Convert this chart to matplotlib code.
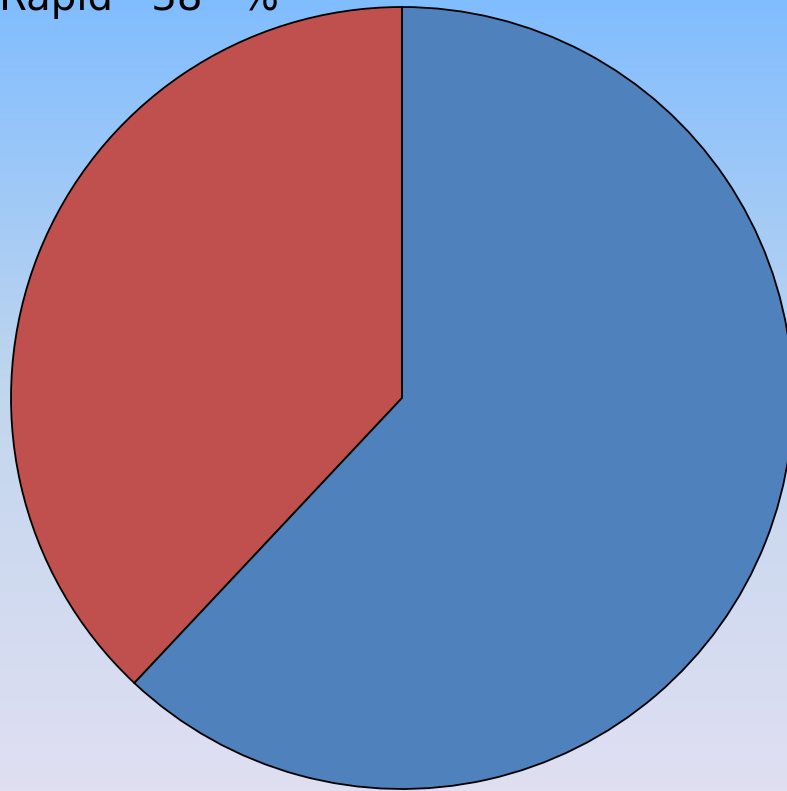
import numpy as np
import matplotlib
matplotlib.use("Agg")
import matplotlib.pyplot as plt
from matplotlib.colors import LinearSegmentedColormap

categories = ["Rapid", "Other"]
shares = [38, 62]
colors = ["#C0504D", "#4F81BD"]

W, H = 787, 791
fig = plt.figure(figsize=(W / 100, H / 100), dpi=100)
ax = fig.add_axes([0, 0, 1, 1])

# vertical background gradient
bg = LinearSegmentedColormap.from_list("bg", ["#80BDFF", "#C2D6EE", "#E0DFF2"])
grad = np.linspace(0, 1, 256).reshape(-1, 1)
ax.imshow(grad, cmap=bg, extent=(0, W, H, 0), aspect="auto", zorder=0)

# y axis runs downward, so start at -90 and go clockwise in data space
ax.pie(shares, colors=colors, startangle=-90, counterclock=False,
       center=(402, 398), radius=391, frame=True,
       wedgeprops=dict(edgecolor="black", linewidth=1.3))
ax.set_xlim(0, W)
ax.set_ylim(H, 0)
ax.set_aspect("equal")
ax.axis("off")

ax.text(-1, 10, f"{categories[0]}   {shares[0]}   %", fontsize=29,
        va="baseline", ha="left", color="black", family="DejaVu Sans")

fig.savefig("out.png", dpi=100)
